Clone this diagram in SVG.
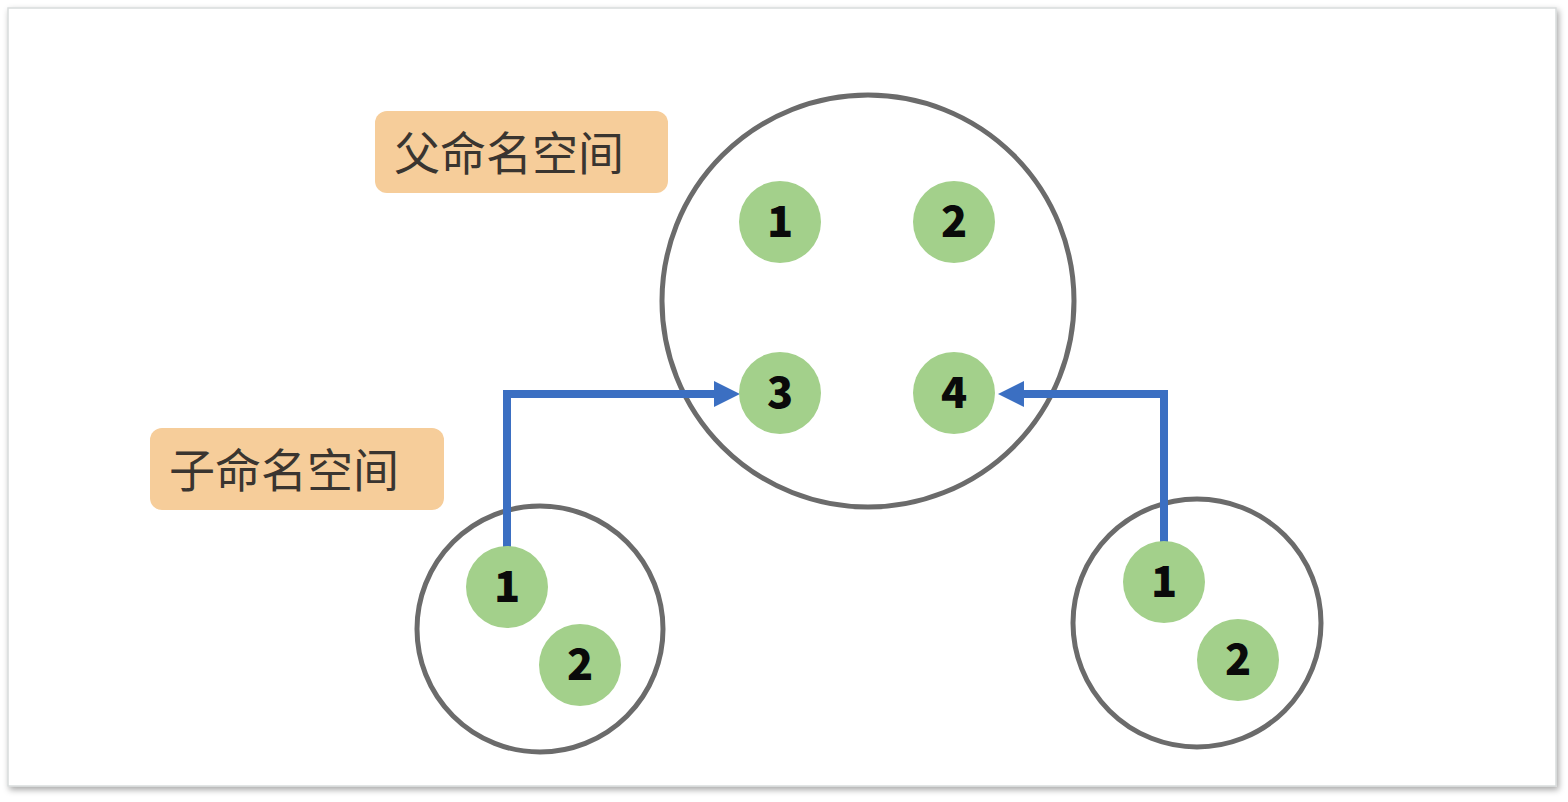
<svg xmlns="http://www.w3.org/2000/svg" width="1568" height="802" viewBox="0 0 1568 802">
<defs>
<filter id="sh" x="-5%" y="-5%" width="110%" height="110%">
<feDropShadow dx="2" dy="3" stdDeviation="3" flood-color="#000" flood-opacity="0.35"/>
</filter>
<marker id="ah" markerWidth="26" markerHeight="26" refX="7" refY="13" orient="auto" markerUnits="userSpaceOnUse">
<path d="M0,0 L26,13 L0,26 z" fill="#3b6fc2"/>
</marker>
<style>
.ns{fill:none;stroke:#6b6b6b;stroke-width:5}
.dot{fill:#a3d08b}
.num{font-family:"Noto Sans CJK SC","Noto Sans",sans-serif;font-weight:900;font-size:43px;fill:#0a0a0a;text-anchor:middle}
.lbl{fill:#f6cd9a}
.lt{font-family:"Noto Sans CJK SC","Noto Sans",sans-serif;font-size:46px;fill:#3a3530}
.con{fill:none;stroke:#3b6fc2;stroke-width:8}
</style>
</defs>
<rect x="0" y="0" width="1568" height="802" fill="#ffffff"/>
<rect x="8" y="8" width="1548" height="778" fill="#ffffff" stroke="#d8dcdc" stroke-width="1.5" filter="url(#sh)"/>

<g id="label-parent">
<rect class="lbl" x="375" y="111" width="293" height="82" rx="12"/>
<text class="lt" x="394" y="170">父命名空间</text>
</g>
<g id="label-child">
<rect class="lbl" x="150" y="428" width="294" height="82" rx="12"/>
<text class="lt" x="169" y="487">子命名空间</text>
</g>

<g id="parent-ns">
<circle class="ns" cx="868" cy="301" r="206"/>
</g>
<g id="child-left-ns">
<circle class="ns" cx="540" cy="629" r="123"/>
</g>
<g id="child-right-ns">
<circle class="ns" cx="1197" cy="623" r="124"/>
</g>

<g id="connectors">
<path class="con" d="M507,548 V394 H721" marker-end="url(#ah)"/>
<path class="con" d="M1164,545 V394 H1017" marker-end="url(#ah)"/>
</g>

<g id="p1"><circle class="dot" cx="780" cy="222" r="41"/><text class="num" x="780" y="237">1</text></g>
<g id="p2"><circle class="dot" cx="954" cy="222" r="41"/><text class="num" x="954" y="237">2</text></g>
<g id="p3"><circle class="dot" cx="780" cy="393" r="41"/><text class="num" x="780" y="408">3</text></g>
<g id="p4"><circle class="dot" cx="954" cy="393" r="41"/><text class="num" x="954" y="408">4</text></g>
<g id="l1"><circle class="dot" cx="507" cy="587" r="41"/><text class="num" x="507" y="602">1</text></g>
<g id="l2"><circle class="dot" cx="580" cy="665" r="41"/><text class="num" x="580" y="680">2</text></g>
<g id="r1"><circle class="dot" cx="1164" cy="582" r="41"/><text class="num" x="1164" y="597">1</text></g>
<g id="r2"><circle class="dot" cx="1238" cy="660" r="41"/><text class="num" x="1238" y="675">2</text></g>
</svg>
